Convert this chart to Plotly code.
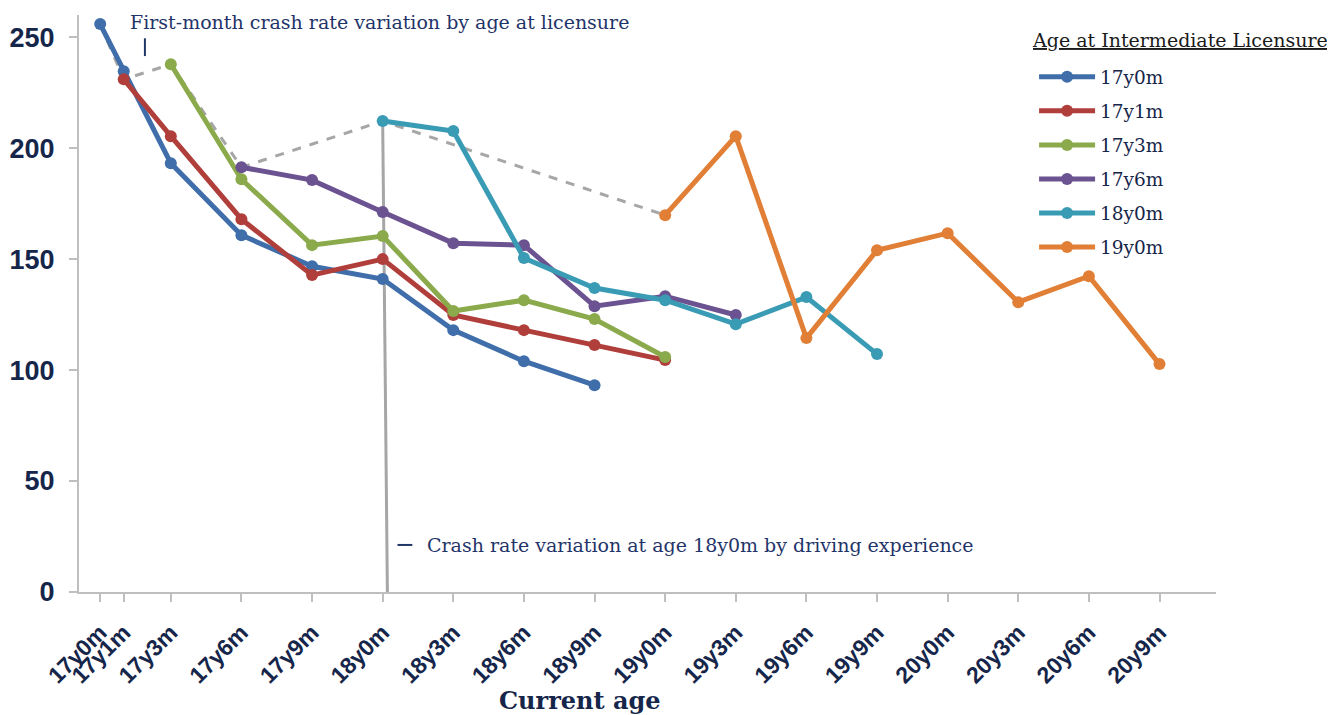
import plotly.graph_objects as go

# months since 17y0m
tick_months = [0, 1, 3, 6, 9, 12, 15, 18, 21, 24, 27, 30, 33, 36, 39, 42, 45]
tick_labels = ["17y0m", "17y1m", "17y3m", "17y6m", "17y9m", "18y0m", "18y3m", "18y6m",
               "18y9m", "19y0m", "19y3m", "19y6m", "19y9m", "20y0m", "20y3m", "20y6m", "20y9m"]

series_names = ["17y0m", "17y1m", "17y3m", "17y6m", "18y0m", "19y0m"]

x_17y0m = [0, 1, 3, 6, 9, 12, 15, 18, 21]
y_17y0m = [255.9, 234.7, 193.2, 160.8, 146.8, 141.0, 118.0, 104.0, 93.2]

x_17y1m = [1, 3, 6, 9, 12, 15, 18, 21, 24]
y_17y1m = [231.0, 205.4, 168.0, 142.8, 150.0, 124.8, 118.0, 111.3, 104.5]

x_17y3m = [3, 6, 9, 12, 15, 18, 21, 24]
y_17y3m = [237.8, 186.0, 156.3, 160.4, 126.6, 131.5, 123.0, 105.9]

x_17y6m = [6, 9, 12, 15, 18, 21, 24, 27]
y_17y6m = [191.4, 185.6, 171.2, 157.2, 156.3, 128.8, 133.3, 124.8]

x_18y0m = [12, 15, 18, 21, 24, 27, 30, 33]
y_18y0m = [212.2, 207.7, 150.5, 137.0, 131.5, 120.7, 132.9, 107.2]

x_19y0m = [24, 27, 30, 33, 36, 39, 42, 45]
y_19y0m = [169.8, 205.4, 114.4, 154.0, 161.7, 130.6, 142.3, 102.7]

colors = ["#3F6EAA", "#B03F3B", "#8AAA4B", "#6B5290", "#3A9BB5", "#E07F35"]

xs = [x_17y0m, x_17y1m, x_17y3m, x_17y6m, x_18y0m, x_19y0m]
ys = [y_17y0m, y_17y1m, y_17y3m, y_17y6m, y_18y0m, y_19y0m]

NAVY = "#16264A"
ANNO = "#1F3468"
GRID = "#BFBFBF"

fig = go.Figure()

# dashed line joining each cohort's first month
fig.add_trace(go.Scatter(
    x=[x[0] for x in xs], y=[y[0] for y in ys], mode="lines",
    line=dict(color="#A6A6A6", width=3, dash="dash"),
    showlegend=False, hoverinfo="skip"))

for name, x, y, c in zip(series_names, xs, ys, colors):
    fig.add_trace(go.Scatter(
        x=x, y=y, mode="lines+markers", name=name, legendgroup=name,
        line=dict(color=c, width=5),
        marker=dict(color=c, size=12)))

# vertical line at 18y0m
fig.add_shape(type="line", x0=12.0, y0=y_18y0m[0], x1=12.2, y1=0,
              line=dict(color="#A6A6A6", width=3), layer="below")

# callout marks
fig.add_shape(type="line", x0=1.9, x1=1.9, y0=249.5, y1=241.5,
              line=dict(color=ANNO, width=2))
fig.add_shape(type="line", x0=12.63, x1=13.26, y0=21.2, y1=21.2,
              line=dict(color=ANNO, width=2))

fig.add_annotation(x=1.2, y=256.8, xref="x", yref="y", xanchor="left", yanchor="middle",
                   text="First-month crash rate variation by age at licensure",
                   showarrow=False, font=dict(family="DejaVu Serif", size=19, color=ANNO))
fig.add_annotation(x=13.8, y=21.2, xref="x", yref="y", xanchor="left", yanchor="middle",
                   text="Crash rate variation at age 18y0m by driving experience",
                   showarrow=False, font=dict(family="DejaVu Serif", size=19, color=ANNO))

# x-axis title (offset left of centre, as in the original)
fig.add_annotation(x=0.4406, y=-0.188, xref="paper", yref="paper",
                   xanchor="center", yanchor="middle", text="<b>Current age</b>",
                   showarrow=False, font=dict(family="DejaVu Serif", size=24, color=NAVY))

# legend heading
fig.add_annotation(x=0.8364, y=0.957, xref="paper", yref="paper",
                   xanchor="left", yanchor="middle",
                   text="<u>Age at Intermediate Licensure</u>",
                   showarrow=False, font=dict(family="DejaVu Serif", size=19, color="#1A1A1A"))

fig.update_layout(
    width=1327, height=707,
    margin=dict(l=71, r=119, t=7, b=123),
    paper_bgcolor="white", plot_bgcolor="white",
    showlegend=True,
    legend=dict(
        x=0.840, y=0.925, xanchor="left", yanchor="top",
        font=dict(family="DejaVu Serif", size=18.5, color=NAVY),
        bgcolor="rgba(0,0,0,0)", itemwidth=56, tracegroupgap=7),
    xaxis=dict(
        range=[-0.9, 47.4], tickmode="array", tickvals=tick_months, ticktext=tick_labels,
        tickangle=-45, showgrid=False, zeroline=False, automargin=False,
        showline=True, linecolor=GRID, linewidth=2,
        ticks="outside", ticklen=8, tickcolor=GRID, tickwidth=2,
        ticklabelstandoff=8,
        tickfont=dict(family="Liberation Sans", size=23, color=NAVY, weight="bold")),
    yaxis=dict(
        range=[0, 260], tickmode="array", tickvals=[0, 50, 100, 150, 200, 250],
        showgrid=False, zeroline=False, automargin=False,
        showline=True, linecolor=GRID, linewidth=2,
        ticks="outside", ticklen=8, tickcolor=GRID, tickwidth=2,
        ticklabelstandoff=9,
        tickfont=dict(family="Liberation Sans", size=27, color=NAVY, weight="bold")),
)

fig.write_html("out.html")
